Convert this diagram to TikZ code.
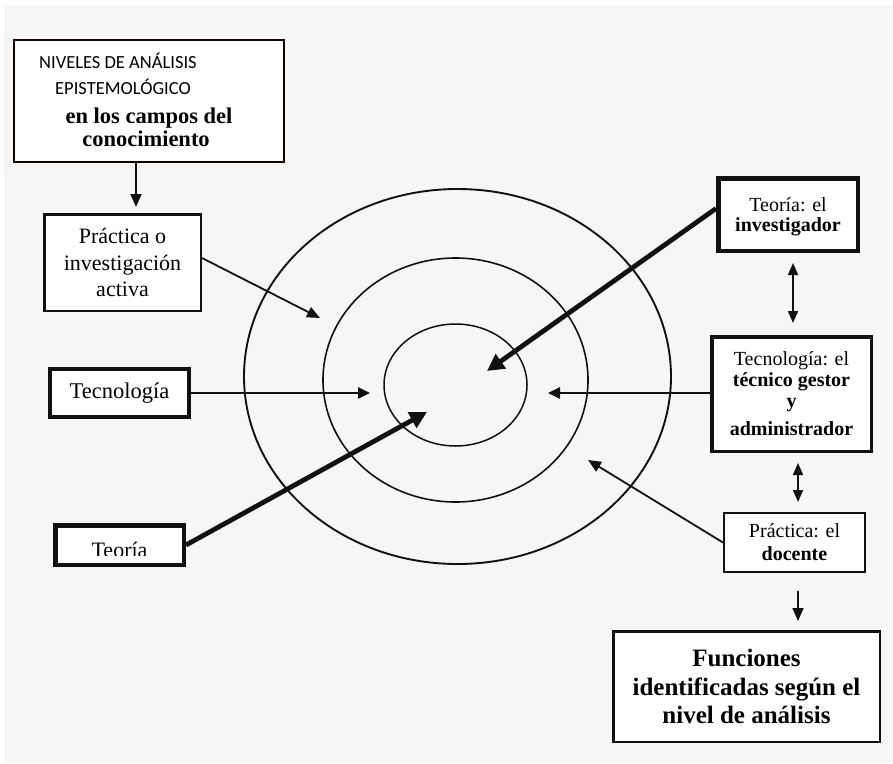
\documentclass[tikz,border=0pt]{standalone}
\usepackage{fontspec}
\setmainfont{Liberation Serif}
\newfontfamily\sansfnt{Carlito}
\usetikzlibrary{arrows.meta}
\definecolor{bggray}{HTML}{F6F6F6}
\definecolor{inkc}{HTML}{111111}
\begin{document}
\begin{tikzpicture}[x=1pt,y=-1pt,
  box/.style={draw=inkc, fill=white, inner sep=0pt, align=center},
  txt/.style={inner sep=0pt},
  thinarr/.style={draw=inkc, line width=1.8pt, -{Triangle[length=13pt,width=11pt]}},
  medarr/.style={draw=inkc, line width=2.6pt, -{Triangle[length=12pt,width=11pt]}},
  thickarr/.style={draw=inkc, line width=4.8pt, -{Triangle[length=17pt,width=17pt]}},
  dblarr/.style={draw=inkc, line width=1.8pt, {Triangle[length=12pt,width=10pt]}-{Triangle[length=12pt,width=10pt]}},
  ring/.style={draw=inkc}
]
\useasboundingbox (0,0) rectangle (893,763);
\fill[white] (0,0) rectangle (893,763);
\fill[bggray] (4,5) rectangle (893,763);

% concentric ellipses
\draw[ring, line width=1.9pt] (457.5,376.5) ellipse [x radius=213.5pt, y radius=187.5pt];
\draw[ring, line width=1.6pt] (455.5,380) ellipse [x radius=132.5pt, y radius=122pt];
\draw[ring, line width=1.5pt] (455.5,385) ellipse [x radius=71.5pt, y radius=61pt];

% title box
\node[box, line width=2pt, draw=black!85!red!60!black, minimum width=270pt, minimum height=122pt] (b1) at (149,101) {};
\node[txt, anchor=base west, font=\sansfnt\fontsize{18.5}{22}\selectfont] (t1a) at (39,68.3) {NIVELES DE ANÁLISIS};
\node[txt, anchor=base west, font=\sansfnt\fontsize{18.5}{22}\selectfont] (t1b) at (55,94) {EPISTEMOLÓGICO};
\node[txt, anchor=base, font=\bfseries\fontsize{22.5}{27}\selectfont] (t1c) at (149,123.3) {en los campos del};
\node[txt, anchor=base, font=\bfseries\fontsize{22.5}{27}\selectfont] (t1d) at (146,146.7) {conocimiento};

% left boxes
\node[box, line width=2.5pt, minimum width=156.5pt, minimum height=96.5pt, font=\fontsize{22}{26.5}\selectfont] (b2) at (122.5,262.5) {Práctica o\\investigación\\activa};
\node[box, line width=4pt, minimum width=139pt, minimum height=48pt, font=\fontsize{22.5}{27}\selectfont] (b3) at (119.5,393) {Tecnología};
\node[box, line width=4.5pt, minimum width=128.5pt, minimum height=39.5pt] (b4) at (119.5,545) {};
\begin{scope}
  \clip (55,525) rectangle (184,555.5);
  \node[txt, anchor=base, font=\fontsize{22}{26}\selectfont] (t4) at (119.5,557) {Teoría};
\end{scope}

% right boxes
\node[box, line width=4.5pt, minimum width=139.5pt, minimum height=72.5pt, text depth=0pt, font=\fontsize{20}{20}\selectfont] (b5) at (788,214.5) {Teoría: el\\\textbf{investigador}};
\node[box, line width=3.5pt, minimum width=159.5pt, minimum height=114.5pt, font=\fontsize{20}{21}\selectfont] (b6) at (791.5,394) {Tecnología: el\\\textbf{técnico gestor}\\\textbf{y}\\[7pt]\textbf{administrador}};
\node[box, line width=2pt, minimum width=141pt, minimum height=59pt, font=\fontsize{20}{23}\selectfont] (b7) at (794.5,542.5) {Práctica: el\\\textbf{docente}};
\node[box, line width=2.5pt, minimum width=266.5pt, minimum height=110.5pt, font=\bfseries\fontsize{25}{28.5}\selectfont] (b8) at (746.5,686.5) {Funciones\\identificadas según el\\nivel de análisis};

% arrow end points
\coordinate (a1e) at (136,207);
\coordinate (a2e) at (320,318);
\coordinate (a3e) at (370,393);
\coordinate (a4e) at (427,412);
\coordinate (a5e) at (487,371);
\coordinate (a6e) at (548,393);
\coordinate (a7e) at (588,460);
\coordinate (d1a) at (793,263);
\coordinate (d1b) at (793,323);
\coordinate (d2a) at (798,463);
\coordinate (d2b) at (798,502);
\coordinate (d3a) at (798,591);
\coordinate (d3b) at (798,621);

% connectors
\draw[thinarr] (b1.south -| a1e) -- (a1e);
\draw[thinarr] ([yshift=4.5pt]b2.east) -- (a2e);
\draw[medarr] (b3.east) -- (a3e);
\draw[thickarr] (b4.east) -- (a4e);
\draw[thickarr] ([yshift=6pt]b5.west) -- (a5e);
\draw[medarr] (b6.west |- a6e) -- (a6e);
\draw[thinarr] (b7.west) -- (a7e);
\draw[dblarr] (d1a) -- (d1b);
\draw[dblarr] (d2a) -- (d2b);
\draw[thinarr] (d3a) -- (d3b);
\end{tikzpicture}
\end{document}
